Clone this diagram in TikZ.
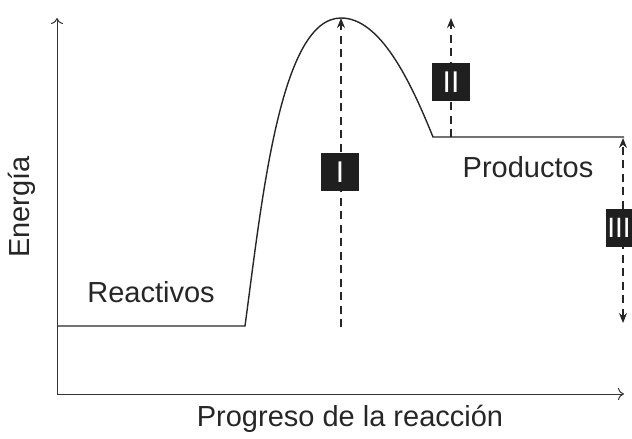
\documentclass[tikz,border=0pt]{standalone}
\usepackage{fontspec}
\setmainfont{Liberation Sans}
\usetikzlibrary{arrows.meta}
\begin{document}
\begin{tikzpicture}[x=1pt,y=-1pt,
  lbl/.style={font=\fontsize{29}{34}\selectfont, text=black!85, inner sep=0pt},
  numbox/.style={fill=black!88, text=white, minimum width=38pt, minimum height=38pt, inner sep=0pt, font=\fontsize{30}{34}\selectfont},
  axis/.style={line width=1pt, draw=black!80, -{To[length=6pt,width=12pt]}},
  curve/.style={line width=1.4pt, draw=black!85},
  dsh/.style={line width=1.2pt, draw=black!85, dash pattern=on 8pt off 5.5pt},
  tip/.style={-{Stealth[length=10pt,width=8pt]}}]
\useasboundingbox (0,0) rectangle (632,439);
% axes
\coordinate (O) at (57,394);
\coordinate (Ytop) at (57,18);
\coordinate (Xend) at (624,394);
\draw[axis] (O) -- (Ytop);
\draw[axis] (O) -- (Xend);
% energy profile
\coordinate (R0) at (57,326);
\coordinate (R1) at (245,326);
\coordinate (TS) at (341,18);
\coordinate (P0) at (433,137);
\coordinate (P1) at (624,137);
\draw[curve] (R0) -- (R1) .. controls (262,200) and (280,18) .. (TS)
  .. controls (380,18) and (410,80) .. (P0) -- (P1);
% dashed arrows
\coordinate (Ibot) at (341,327);
\coordinate (IIbot) at (451,137);
\coordinate (IItop) at (451,18);
\coordinate (IIItop) at (623,138);
\coordinate (IIIbot) at (623,323);
\draw[dsh,tip] (Ibot) -- (TS);
\draw[dsh,tip] (IIbot) -- (IItop);
\draw[dsh,{Stealth[length=10pt,width=8pt]}-{Stealth[length=10pt,width=8pt]}] (IIIbot) -- (IIItop);
% boxes
\node[numbox] (bI) at (340,172) {I};
\node[numbox] (bII) at (451,82) {II};
\node[numbox, minimum width=26pt, font=\fontsize{28}{32}\selectfont] (bIII) at (619,228) {III};
% labels
\node[lbl] (reac) at (151,292) {Reactivos};
\node[lbl] (prod) at (528,167) {Productos};
\node[lbl, rotate=90] (ener) at (22,207) {Energía};
\node[lbl] (prog) at (350,419) {Progreso de la reacción};
\end{tikzpicture}
\end{document}
